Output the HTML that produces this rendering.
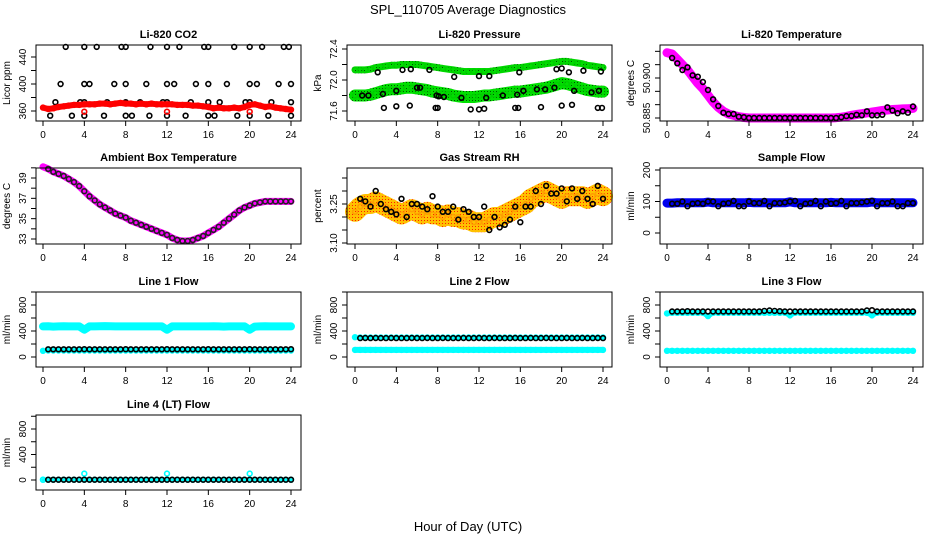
<!DOCTYPE html>
<html><head><meta charset="utf-8"><style>
body{margin:0;background:#fff}
svg{display:block;font-family:"Liberation Sans",sans-serif}
</style></head><body>
<svg id="c" width="936" height="540" viewBox="0 0 936 540">
<defs>
<pattern id="pg" width="3" height="3" patternUnits="userSpaceOnUse"><rect width="3" height="3" fill="#00e000"/><rect x="1" y="1" width="1" height="1" fill="#005000"/></pattern>
<pattern id="po" width="3" height="3" patternUnits="userSpaceOnUse"><rect width="3" height="3" fill="#ffc000"/><rect x="1" y="1" width="1" height="1" fill="#ff2000"/></pattern>
</defs>
<text x="468" y="14" font-size="13" text-anchor="middle">SPL_110705  Average Diagnostics</text>
<text x="468" y="531" font-size="13" text-anchor="middle">Hour of Day (UTC)</text>
</svg>
<script>
const H49=[0,0.5,1,1.5,2,2.5,3,3.5,4,4.5,5,5.5,6,6.5,7,7.5,8,8.5,9,9.5,10,10.5,11,11.5,12,12.5,13,13.5,14,14.5,15,15.5,16,16.5,17,17.5,18,18.5,19,19.5,20,20.5,21,21.5,22,22.5,23,23.5,24];
const H48=H49.slice(1);
const xTicks=[0,4,8,12,16,20,24];
// CO2
const co2Red=[365,363,364,366,367,368,369,369,370,370,370,371,371,370,371,372,371,371,370,371,370,371,370,370,370,370,369,369,369,368,368,367,366,364,365,364,364,365,364,366,369,370,368,366,367,365,364,363,362];
const co2RedPtsH=[4,12,20];
const co2RedPtsV=[359,359,359];
const co2BlackH=[2.2,4,5.2,7.6,8,10.4,12,13.2,15.6,16,18.5,20,21.2,23.3,23.8,1.7,4,4.5,6.9,8,10,12,12.7,14.8,16,17.8,20,20.7,22.8,24,1.2,3.6,4,6.2,8,9.4,11.6,12,14.3,16,17.1,19.6,20,22.1,24,0.7,2.8,4,5.9,8,8.6,10.3,12,13.8,16,16.6,18.8,20,21.8,24];
const co2BlackV=[455,455,455,455,455,455,455,455,455,455,455,455,455,455,455,400,400,400,400,400,400,400,400,400,400,400,400,400,400,400,373,373,373,373,373,373,373,373,373,373,373,373,373,373,373,353,353,353,353,353,353,353,353,353,353,353,353,353,353,353];
// Pressure
const presUpper=[72.13,72.13,72.13,72.14,72.16,72.17,72.18,72.19,72.19,72.20,72.20,72.20,72.20,72.19,72.18,72.17,72.16,72.15,72.14,72.13,72.12,72.11,72.11,72.11,72.11,72.11,72.11,72.12,72.13,72.14,72.15,72.16,72.16,72.17,72.18,72.19,72.20,72.21,72.22,72.23,72.24,72.24,72.23,72.22,72.21,72.19,72.18,72.17,72.16];
const presLower=[71.80,71.80,71.80,71.81,71.83,71.85,71.87,71.88,71.88,71.89,71.90,71.90,71.89,71.88,71.87,71.85,71.84,71.83,71.82,71.80,71.79,71.78,71.78,71.78,71.79,71.80,71.80,71.81,71.82,71.83,71.84,71.85,71.85,71.86,71.87,71.88,71.89,71.90,71.92,71.94,71.96,71.95,71.93,71.91,71.89,71.87,71.86,71.85,71.85];
const presBlackH=[0.7,1.3,2.2,2.7,4,4.6,5.4,6.3,7.2,7.9,8.1,9.6,10.3,12,12.7,13,14.3,15.7,15.9,16.3,17.6,18.4,19.3,19.5,20,20.7,21.2,22.1,22.9,23.6,23.8,2.8,4,5.3,7.8,8,11.2,12,12.5,15.5,15.8,18,20,21,23.5,23.9,6,8.6];
const presBlackV=[71.80,71.80,72.10,71.82,71.86,72.13,72.14,71.90,72.13,71.80,71.79,72.04,71.77,72.05,71.77,72.05,71.80,71.81,72.10,71.86,71.88,71.88,71.90,72.14,72.15,72.10,71.86,72.12,71.84,71.86,72.11,71.64,71.66,71.67,71.64,71.64,71.62,71.62,71.63,71.64,71.64,71.65,71.67,71.68,71.64,71.64,71.90,71.78];
// Li-820 temperature
const tempMag=[50.9095,50.909,50.907,50.905,50.903,50.9005,50.898,50.896,50.8935,50.891,50.889,50.8875,50.8865,50.886,50.8855,50.8852,50.885,50.885,50.885,50.885,50.885,50.885,50.885,50.885,50.885,50.885,50.885,50.885,50.885,50.885,50.885,50.885,50.885,50.8851,50.8853,50.8856,50.886,50.8863,50.8866,50.8869,50.8872,50.8875,50.8878,50.888,50.8882,50.8883,50.8884,50.8885,50.8886];
const tempBlack=[50.9075,50.9055,50.903,50.904,50.901,50.9005,50.8985,50.8955,50.892,50.8895,50.887,50.8865,50.8865,50.8855,50.8853,50.885,50.885,50.885,50.885,50.885,50.885,50.885,50.885,50.885,50.885,50.885,50.885,50.885,50.885,50.885,50.885,50.885,50.885,50.8853,50.8857,50.8858,50.8862,50.886,50.8875,50.886,50.886,50.8862,50.889,50.8878,50.8868,50.8875,50.887,50.8893];
// Ambient
const ambMag=[40.1,39.9,39.6,39.4,39.2,38.9,38.6,38.2,37.7,37.2,36.8,36.4,36.1,35.8,35.5,35.3,35.1,34.8,34.6,34.4,34.2,34.0,33.8,33.6,33.4,33.1,32.9,32.8,32.8,32.9,33.1,33.3,33.6,33.9,34.2,34.6,35.0,35.4,35.8,36.1,36.3,36.5,36.6,36.7,36.7,36.7,36.7,36.7,36.7];
// RH
const rhBand=[3.22,3.24,3.25,3.25,3.26,3.25,3.24,3.23,3.22,3.21,3.22,3.23,3.22,3.21,3.22,3.21,3.21,3.20,3.21,3.20,3.20,3.19,3.19,3.18,3.18,3.18,3.19,3.20,3.20,3.21,3.22,3.23,3.24,3.25,3.27,3.28,3.29,3.30,3.29,3.28,3.27,3.28,3.28,3.28,3.28,3.27,3.28,3.29,3.28];
const rhBlack=[3.27,3.26,3.24,3.30,3.25,3.23,3.22,3.21,3.27,3.20,3.25,3.25,3.24,3.23,3.28,3.24,3.22,3.22,3.24,3.19,3.23,3.22,3.20,3.20,3.24,3.15,3.20,3.16,3.17,3.19,3.24,3.18,3.24,3.24,3.30,3.25,3.32,3.29,3.29,3.31,3.26,3.31,3.27,3.30,3.27,3.25,3.32,3.27];
// Sample flow
const sampBlue=[95,95,96,96,96,96,96,96,98,96,96,96,96,96,96,96,97,96,96,96,96,96,96,96,99,96,96,96,96,96,96,96,97,96,96,96,96,96,96,96,98,96,96,96,96,96,96,96,96];
const sampBlack=[93,93,100,85,93,95,93,100,100,85,93,95,102,85,85,100,95,95,102,85,95,95,97,100,102,85,93,95,102,85,100,93,95,102,85,95,95,97,100,102,85,95,95,100,85,85,95,95];
// Line flows
const l1Cyan=[470,472,468,470,472,470,470,470,420,470,470,472,475,472,470,470,470,470,470,470,470,470,470,470,420,470,470,470,470,470,470,470,470,472,470,468,470,470,470,470,420,468,470,472,470,470,470,470,470];
const l1Low=[95,100,100,100,100,100,100,100,100,100,100,100,100,100,100,100,100,100,100,100,100,100,100,100,100,100,100,100,100,100,100,100,100,100,100,100,100,100,100,100,100,100,100,100,100,100,100,100,100];
const l1Black=[118,118,118,118,118,118,118,120,118,118,118,118,118,118,118,120,118,118,118,118,118,118,118,120,118,118,118,118,118,118,118,120,118,118,118,118,118,118,118,120,118,118,118,118,118,118,118,120];
const l2Cyan=[305,300,300,300,300,300,300,300,300,300,300,300,300,300,300,300,300,300,300,300,300,300,300,300,300,300,300,300,300,300,300,300,300,300,300,300,300,300,300,300,300,300,300,300,300,300,300,300,300];
const l2Low=[110,110,110,110,110,110,110,110,110,110,110,110,110,110,110,110,110,110,110,110,110,110,110,110,110,110,110,110,110,110,110,110,110,110,110,110,110,110,110,110,110,110,110,110,110,110,110,110,110];
const l2Black=[290,292,290,292,290,290,292,290,290,290,292,290,290,292,290,290,292,290,290,290,292,290,290,292,290,290,292,290,290,290,292,290,290,292,290,290,292,290,290,290,292,290,290,292,290,290,292,290];
const l3Cyan=[670,680,680,680,680,680,680,680,630,680,680,680,680,680,680,680,680,680,680,680,680,680,680,680,640,680,680,680,680,680,680,680,680,680,680,680,680,680,680,680,640,680,680,680,680,680,680,680,680];
const l3Low=[95,95,95,95,95,95,95,95,95,95,95,95,95,95,95,95,95,95,95,95,95,95,95,95,95,95,95,95,95,95,95,95,95,95,95,95,95,95,95,95,95,95,95,95,95,95,95,95,95];
const l3Black=[700,700,700,705,700,700,700,700,700,700,700,700,700,700,700,700,700,700,710,715,710,705,700,700,700,700,700,700,700,700,700,700,700,700,700,700,700,700,715,720,700,700,700,700,700,700,700,700];
const l4Cyan=[5,5,5,5,5,5,5,5,5,5,5,5,5,5,5,5,5,5,5,5,5,5,5,5,5,5,5,5,5,5,5,5,5,5,5,5,5,5,5,5,5,5,5,5,5,5,5,5,5];
const l4CyanPtsH=[0,4,12,20];
const l4CyanPtsV=[5,100,100,100];
const l4Black=[5,5,5,5,5,5,5,5,5,5,5,5,5,5,5,5,5,5,5,5,5,5,5,5,5,5,5,5,5,5,5,5,5,5,5,5,5,5,5,5,5,5,5,5,5,5,5,5];

const NS='http://www.w3.org/2000/svg';
const svg=document.getElementById('c');
function mk(tag,attrs,parent){const e=document.createElementNS(NS,tag);for(const k in attrs)e.setAttribute(k,attrs[k]);(parent||svg).appendChild(e);return e;}
const cols=[{x0:43,x24:291,bl:36,br:301},{x0:355,x24:603,bl:347,br:612},{x0:667,x24:913,bl:660,br:923}];
const rows=[{t:45,b:121},{t:168,b:244},{t:292,b:367},{t:415,b:490}];

function panel(cfg){
  const c=cols[cfg.col],r=rows[cfg.row];
  const g=mk('g',{});
  
  
  const X=h=>c.x0+(c.x24-c.x0)*h/24;
  const Y=v=>cfg.py0+(cfg.py1-cfg.py0)*(v-cfg.v0)/(cfg.v1-cfg.v0);
  // series
  cfg.series.forEach(s=>{
    const sg=mk('g',{},g);
    
    
    if(s.band){
      const pts=s.h.map((h,i)=>X(h).toFixed(1)+','+Y(s.v[i]).toFixed(1)).join(' ');
      mk('polyline',{points:pts,fill:'none',stroke:s.color,'stroke-width':s.w,'stroke-linejoin':'round','stroke-linecap':'round'},sg);
    }
    if(s.pts!==false){
      s.h.forEach((h,i)=>{
        const ci=mk('circle',{cx:X(h).toFixed(1),cy:Y(s.v[i]).toFixed(1),r:2.4,fill:'none',stroke:s.pc||s.color,'stroke-width':1.6},sg);
        
        
      });
    }
  });
  // box
  const bx=mk('rect',{x:c.bl,y:r.t,width:c.br-c.bl,height:r.b-r.t,fill:'none',stroke:'#000','stroke-width':1},g);
  
  
  // x axis
  const xa=mk('g',{},g);
  
  
  mk('line',{x1:X(0),x2:X(24),y1:r.b,y2:r.b,stroke:'#000'},xa);
  xTicks.forEach(t=>{
    mk('line',{x1:X(t),x2:X(t),y1:r.b,y2:r.b+5,stroke:'#000'},xa);
    const tx=mk('text',{x:X(t),y:r.b+17,'font-size':10,'text-anchor':'middle'},xa);
    tx.textContent=t;
    
    
  });
  // y axis
  const ya=mk('g',{},g);
  
  
  const yt=cfg.ticks;
  mk('line',{x1:c.bl,x2:c.bl,y1:Y(yt[0]),y2:Y(yt[yt.length-1]),stroke:'#000'},ya);
  yt.forEach(t=>mk('line',{x1:c.bl-5,x2:c.bl,y1:Y(t),y2:Y(t),stroke:'#000'},ya));
  cfg.labels.forEach(t=>{
    const lx=c.bl-10,ly=Y(t);
    const tx=mk('text',{x:lx,y:ly,'font-size':10,'text-anchor':'middle',transform:`rotate(-90 ${lx} ${ly})`},ya);
    tx.textContent=cfg.fmt?cfg.fmt(t):t;
    
    
  });
  const ylx=c.bl-26,yly=(r.t+r.b)/2;
  const yl=mk('text',{x:ylx,y:yly,'font-size':10,'text-anchor':'middle',transform:`rotate(-90 ${ylx} ${yly})`},g);
  yl.textContent=cfg.ylab;
  
  
  const ti=mk('text',{x:(c.bl+c.br)/2,y:r.t-7,'font-size':11,'font-weight':'bold','text-anchor':'middle'},g);
  ti.textContent=cfg.title;
  
  
}
const flowTicks=[0,200,400,600,800,1000],flowLabels=[0,400,800];
panel({name:'co2-panel',col:0,row:0,title:'Li-820 CO2',ylab:'Licor ppm',v0:360,py0:111,v1:440,py1:57,ticks:[360,380,400,420,440],labels:[360,400,440],
 series:[{name:'co2-black',h:co2BlackH,v:co2BlackV,color:'#000'},{name:'co2-red-band',band:true,h:H49,v:co2Red,color:'#ff0000',w:6},{name:'co2-red-points',h:co2RedPtsH,v:co2RedPtsV,color:'#ff0000'}]});
panel({name:'pressure-panel',col:1,row:0,title:'Li-820 Pressure',ylab:'kPa',v0:71.6,py0:111,v1:72.4,py1:49,ticks:[71.6,71.8,72.0,72.2,72.4],labels:[71.6,72.0,72.4],fmt:t=>t.toFixed(1),
 series:[{name:'pressure-upper-band',band:true,h:H49,v:presUpper,color:'url(#pg)',pc:'#00d000',w:7},{name:'pressure-lower-band',band:true,h:H49,v:presLower,color:'url(#pg)',pc:'#00d000',w:12},{name:'pressure-black',h:presBlackH,v:presBlackV,color:'#000'}]});
panel({name:'li820-temp-panel',col:2,row:0,title:'Li-820 Temperature',ylab:'degrees C',v0:50.885,py0:118,v1:50.900,py1:78,ticks:[50.885,50.890,50.895,50.900,50.905,50.910],labels:[50.885,50.900],fmt:t=>t.toFixed(3),
 series:[{name:'temp-magenta-band',band:true,h:H49,v:tempMag,color:'#ff00ff',w:9},{name:'temp-black',h:H48,v:tempBlack,color:'#000'}]});
panel({name:'ambient-panel',col:0,row:1,title:'Ambient Box Temperature',ylab:'degrees C',v0:33,py0:239,v1:39,py1:178,ticks:[33,34,35,36,37,38,39,40],labels:[33,35,37,39],
 series:[{name:'ambient-magenta-band',band:true,h:H49,v:ambMag,color:'#ff00ff',w:7},{name:'ambient-black',h:H48,v:ambMag.slice(1),color:'#222'}]});
panel({name:'rh-panel',col:1,row:1,title:'Gas Stream RH',ylab:'percent',v0:3.10,py0:243,v1:3.25,py1:204,ticks:[3.10,3.15,3.20,3.25,3.30,3.35],labels:[3.10,3.25],fmt:t=>t.toFixed(2),
 series:[{name:'rh-orange-band',band:true,h:H49,v:rhBand,color:'url(#po)',pc:'#ffa000',w:20},{name:'rh-black',h:H48,v:rhBlack,color:'#000'}]});
panel({name:'sample-flow-panel',col:2,row:1,title:'Sample Flow',ylab:'ml/min',v0:0,py0:233,v1:200,py1:170,ticks:[0,50,100,150,200],labels:[0,100,200],
 series:[{name:'sample-blue-band',band:true,h:H49,v:sampBlue,color:'#0000ee',w:9},{name:'sample-black',h:H48,v:sampBlack,color:'#000'}]});
panel({name:'line1-panel',col:0,row:2,title:'Line 1 Flow',ylab:'ml/min',v0:0,py0:357,v1:800,py1:305,ticks:flowTicks,labels:flowLabels,
 series:[{name:'line1-cyan-high',band:true,h:H49,v:l1Cyan,color:'#00ffff',w:8},{name:'line1-cyan-low',band:true,h:H49,v:l1Low,color:'#00ffff',w:4},{name:'line1-black',h:H48,v:l1Black,color:'#000'}]});
panel({name:'line2-panel',col:1,row:2,title:'Line 2 Flow',ylab:'ml/min',v0:0,py0:357,v1:800,py1:305,ticks:flowTicks,labels:flowLabels,
 series:[{name:'line2-cyan-high',band:true,h:H49,v:l2Cyan,color:'#00ffff',w:4},{name:'line2-cyan-low',band:true,h:H49,v:l2Low,color:'#00ffff',w:6},{name:'line2-black',h:H48,v:l2Black,color:'#000'}]});
panel({name:'line3-panel',col:2,row:2,title:'Line 3 Flow',ylab:'ml/min',v0:0,py0:357,v1:800,py1:305,ticks:flowTicks,labels:flowLabels,
 series:[{name:'line3-cyan-high',band:true,h:H49,v:l3Cyan,color:'#00ffff',w:5},{name:'line3-cyan-low',band:true,h:H49,v:l3Low,color:'#00ffff',w:5},{name:'line3-black',h:H48,v:l3Black,color:'#000'}]});
panel({name:'line4-panel',col:0,row:3,title:'Line 4 (LT) Flow',ylab:'ml/min',v0:0,py0:480,v1:800,py1:429,ticks:flowTicks,labels:flowLabels,
 series:[{name:'line4-cyan',band:true,h:H49,v:l4Cyan,color:'#00ffff',w:3},{name:'line4-cyan-points',h:l4CyanPtsH,v:l4CyanPtsV,color:'#00ffff'},{name:'line4-black',h:H48,v:l4Black,color:'#000'}]});
</script>
</body></html>
